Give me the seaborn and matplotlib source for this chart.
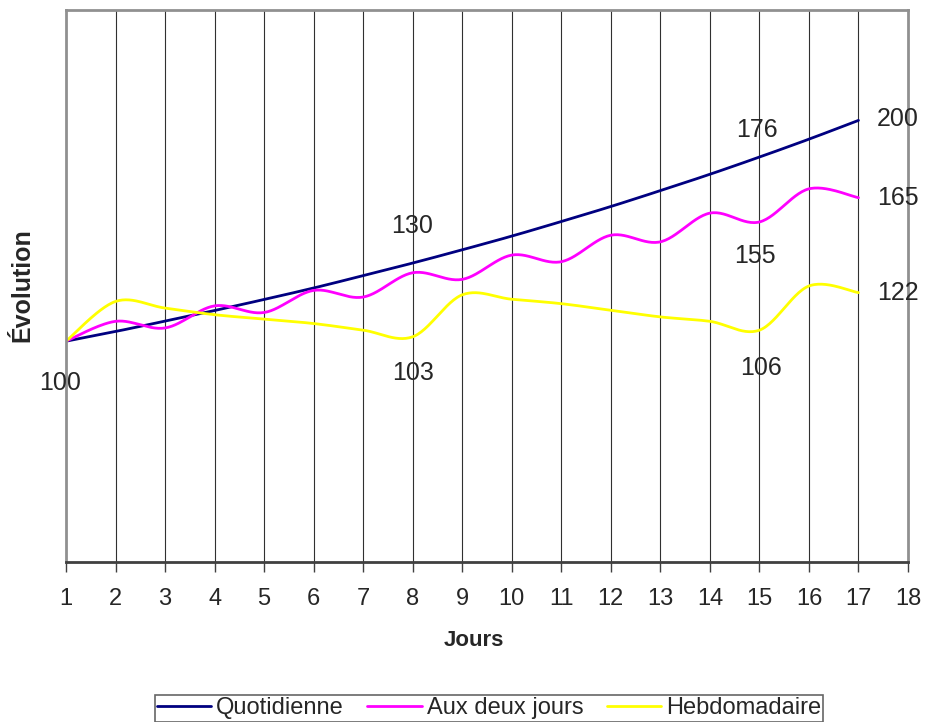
import numpy as np
import pandas as pd
import matplotlib
matplotlib.use("Agg")
import matplotlib.pyplot as plt
import seaborn as sns

# --- data ---
jours = list(range(1, 18))
quotidienne = [100, 104.4, 109.1, 113.9, 118.9, 124.1, 129.7, 135.4, 141.4,
               147.6, 154.2, 161.0, 168.2, 175.6, 183.4, 191.5, 200]
deux_jours = [100, 109, 106, 116, 113, 123, 120, 131, 128, 139, 136, 148, 145, 158, 154, 169, 165]
hebdo = [100, 118, 115, 112, 110, 108, 105, 102, 121, 119, 117, 114, 111, 109, 105, 125, 122]

series_names = ["Quotidienne", "Aux deux jours", "Hebdomadaire"]
series_colors = ["#000080", "#FF00FF", "#FFFF00"]

# value labels written on the chart
label_txt = ["100", "130", "176", "200", "155", "165", "103", "106", "122"]
# where they sit (data coords) and alignment
label_pos = {"100": (0.88, 81, "center"), "130": (7.99, 152, "center"),
             "176": (14.95, 195.5, "center"), "200": (17.37, 200.5, "left"),
             "155": (14.9, 138.5, "center"), "165": (17.37, 165, "left"),
             "103": (8.0, 85.5, "center"), "106": (15.03, 88, "center"),
             "122": (17.37, 122, "left")}


def smooth(xs, ys, n=30):
    # Excel-like smoothed line (cubic Bezier / Catmull-Rom)
    p = np.column_stack([xs, ys]).astype(float)
    p = np.vstack([p[0], p, p[-1]])
    out = []
    t = np.linspace(0, 1, n)[:, None]
    for i in range(1, len(p) - 2):
        p0, p3 = p[i], p[i + 1]
        c1 = p0 + (p[i + 1] - p[i - 1]) / 6
        c2 = p3 - (p[i + 2] - p[i]) / 6
        seg = ((1 - t) ** 3) * p0 + 3 * ((1 - t) ** 2) * t * c1 + 3 * (1 - t) * t ** 2 * c2 + t ** 3 * p3
        out.append(seg if i == 1 else seg[1:])
    out = np.vstack(out)
    return out[:, 0], out[:, 1]


sns.set_style("white")
plt.rcParams["font.family"] = ["Liberation Sans", "DejaVu Sans"]

fig = plt.figure(figsize=(9.26, 7.22), dpi=100)
ax = fig.add_axes([66 / 926, 1 - 562 / 722, (908 - 66) / 926, (562 - 10) / 722])

frames = []
for name, vals in zip(series_names, [quotidienne, deux_jours, hebdo]):
    sx, sy = smooth(jours, vals)
    frames.append(pd.DataFrame({"x": sx, "y": sy, "serie": name}))
df = pd.concat(frames, ignore_index=True)

sns.lineplot(data=df, x="x", y="y", hue="serie", palette=series_colors,
             sort=False, estimator=None, linewidth=2, ax=ax, legend=True)

ax.set_xlim(1, 18)
ax.set_ylim(0, 250)
ax.set_xticks(range(1, 19))
ax.set_yticks([])
for g in range(2, 18):
    ax.axvline(g, color="#303030", linewidth=0.8, zorder=0)

for side in ["left", "top", "right"]:
    ax.spines[side].set_color("#909090")
    ax.spines[side].set_linewidth(2)
ax.spines["bottom"].set_color("#404040")
ax.spines["bottom"].set_linewidth(2)
ax.tick_params(axis="x", direction="out", length=7, width=1, color="#404040",
               labelsize=17, pad=12, bottom=True)
ax.set_xlabel("")
ax.set_ylabel("")

for lt in label_txt:
    lx, ly, ha = label_pos[lt]
    ax.text(lx, ly, lt, ha=ha, va="center", fontsize=18, clip_on=False)

fig.text(474 / 926, 1 - 641 / 722, "Jours", ha="center", va="center",
         fontsize=16, fontweight="bold")
fig.text(22 / 926, 1 - 285 / 722, "Évolution", ha="center", va="center",
         rotation=90, fontsize=18, fontweight="bold")

handles, labels = ax.get_legend_handles_labels()
ax.get_legend().remove()
leg = fig.legend(handles, labels, loc="upper center", bbox_to_anchor=(489 / 926, 1 - 683 / 722),
                 ncol=3, frameon=True, fancybox=False, edgecolor="#404040", fontsize=17,
                 handlelength=2.3, handletextpad=0.2, columnspacing=1.0, borderpad=0.1)
leg.get_frame().set_linewidth(1.2)

fig.savefig("out.png", dpi=100)
